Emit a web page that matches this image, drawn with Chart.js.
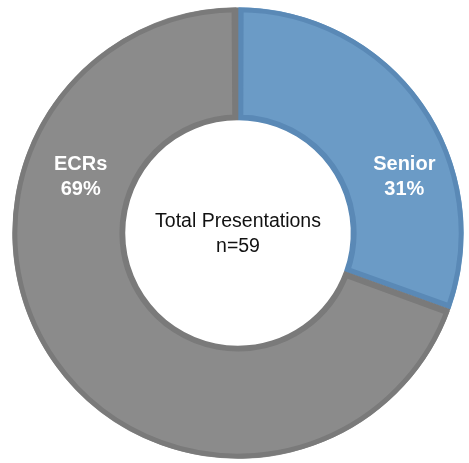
<!DOCTYPE html>
<html>
<head>
<meta charset="utf-8">
<script src="https://cdn.jsdelivr.net/npm/chart.js@4"></script>
<style>
  html, body { margin: 0; padding: 0; background: #fff; }
  #wrap { width: 469px; height: 463px; }
</style>
</head>
<body>
<div id="wrap"><canvas id="myChart" width="469" height="463"></canvas></div>
<script>
// data (n = 59 presentations)
const categories = ['Senior', 'ECRs'];
const counts = [18, 41];
const percentLabels = ['31%', '69%'];
const centerLines = ['Total Presentations', 'n=59'];

const fillColors = ['#6b9bc6', '#8b8b8b'];
const edgeColors = ['#5a89b6', '#7a7a7a'];

// slice labels, placed like in the original (degrees clockwise from 12 o'clock)
const sliceLabelPlugin = {
    id: 'sliceLabels',
    afterDatasetsDraw(chart, args, opts) {
        const ctx = chart.ctx;
        const meta = chart.getDatasetMeta(0);
        const first = meta.data[0];
        const cx = first.x, cy = first.y;
        const rMid = (first.innerRadius + first.outerRadius) / 2;

        ctx.save();
        ctx.textAlign = 'center';
        ctx.textBaseline = 'middle';

        meta.data.forEach((arc, i) => {
            const a = opts.angles[i] * Math.PI / 180;
            const r = rMid * opts.radiusFactor[i];
            const x = cx + r * Math.sin(a);
            const y = cy - r * Math.cos(a);
            ctx.fillStyle = '#ffffff';
            ctx.font = "bold 20px 'Liberation Sans', Arial, sans-serif";
            ctx.fillText(categories[i], x, y - 11);
            ctx.fillText(percentLabels[i], x, y + 14);
        });

        // centre text
        ctx.fillStyle = '#111111';
        ctx.font = "19.5px 'Liberation Sans', Arial, sans-serif";
        ctx.fillText(centerLines[0], cx, cy - 11);
        ctx.fillText(centerLines[1], cx, cy + 14);
        ctx.restore();
    }
};

const ctx = document.getElementById('myChart').getContext('2d');
new Chart(ctx, {
    type: 'doughnut',
    data: {
        labels: categories,
        datasets: [{
            data: counts,
            backgroundColor: fillColors,
            borderColor: edgeColors,
            borderWidth: 5,
            borderAlign: 'inner',
            spacing: 1,
            hoverOffset: 0
        }]
    },
    options: {
        responsive: false,
        animation: false,
        cutout: '50%',
        layout: {
            padding: { left: 12, right: 5, top: 7, bottom: 4 }
        },
        plugins: {
            legend: { display: false },
            tooltip: { enabled: false },
            sliceLabels: {
                angles: [71, 290],
                radiusFactor: [1.04, 0.99]
            }
        }
    },
    plugins: [sliceLabelPlugin]
});
</script>
</body>
</html>
